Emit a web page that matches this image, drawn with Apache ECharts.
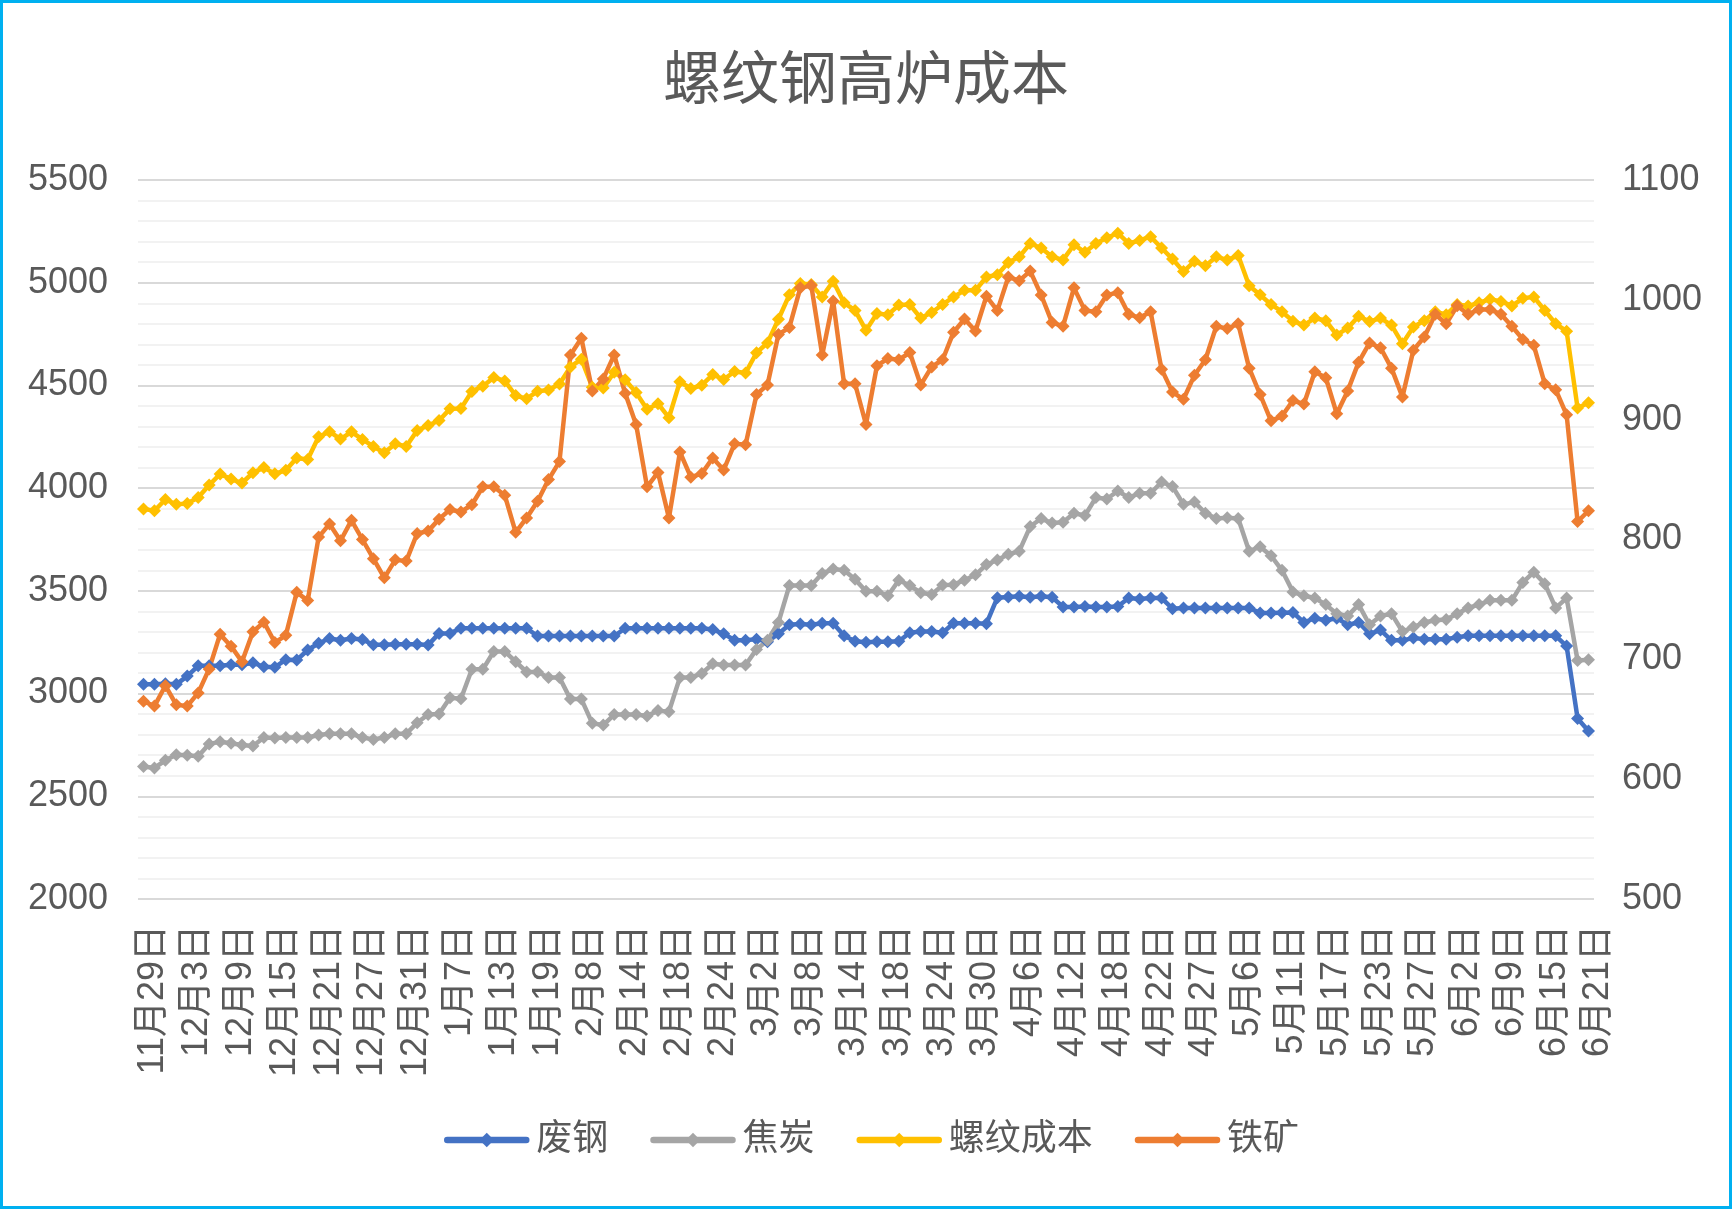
<!DOCTYPE html>
<html><head><meta charset="utf-8">
<script src="https://cdn.jsdelivr.net/npm/echarts@6/dist/echarts.min.js"></script>
<style>html,body{margin:0;padding:0;background:#fff}#c{width:1732px;height:1209px}</style>
</head><body><div id="c"></div>
<script>
const categories = [
'11月29日','11月30日','12月1日','12月2日','12月3日','12月4日','12月7日','12月8日','12月9日','12月10日',
'12月11日','12月14日','12月15日','12月16日','12月17日','12月18日','12月21日','12月22日','12月23日','12月24日',
'12月27日','12月28日','12月29日','12月30日','12月31日','1月4日','1月5日','1月6日','1月7日','1月8日',
'1月11日','1月12日','1月13日','1月14日','1月15日','1月18日','1月19日','1月20日','1月21日','1月22日',
'2月8日','2月9日','2月10日','2月11日','2月14日','2月15日','2月16日','2月17日','2月18日','2月19日',
'2月22日','2月23日','2月24日','2月25日','2月26日','3月1日','3月2日','3月3日','3月4日','3月5日',
'3月8日','3月9日','3月10日','3月11日','3月14日','3月15日','3月16日','3月17日','3月18日','3月19日',
'3月22日','3月23日','3月24日','3月25日','3月26日','3月29日','3月30日','3月31日','4月1日','4月2日',
'4月6日','4月7日','4月8日','4月9日','4月12日','4月13日','4月14日','4月15日','4月18日','4月19日',
'4月20日','4月21日','4月22日','4月23日','4月25日','4月26日','4月27日','4月28日','4月29日','4月30日',
'5月6日','5月7日','5月8日','5月10日','5月11日','5月12日','5月13日','5月14日','5月17日','5月18日',
'5月19日','5月20日','5月23日','5月24日','5月25日','5月26日','5月27日','5月28日','5月31日','6月1日',
'6月2日','6月3日','6月4日','6月8日','6月9日','6月10日','6月11日','6月13日','6月15日','6月16日',
'6月17日','6月18日','6月21日'];

const feigang = [
3045,3045,3048,3045,3085,3135,3135,3135,3140,3140,
3150,3130,3128,3165,3163,3212,3245,3268,3260,3268,
3263,3238,3238,3240,3240,3240,3236,3293,3293,3318,
3318,3318,3318,3318,3318,3318,3280,3280,3280,3280,
3280,3280,3280,3280,3318,3318,3318,3318,3318,3318,
3318,3318,3312,3291,3260,3260,3265,3252,3291,3335,
3339,3335,3342,3342,3281,3255,3250,3252,3252,3255,
3296,3302,3302,3296,3342,3342,3342,3340,3467,3470,
3474,3469,3474,3469,3422,3422,3424,3422,3422,3424,
3465,3460,3465,3465,3413,3417,3417,3417,3417,3417,
3417,3417,3392,3392,3394,3395,3346,3367,3357,3367,
3335,3346,3291,3309,3259,3259,3270,3265,3265,3265,
3274,3281,3281,3281,3281,3281,3281,3281,3281,3281,
3231,2879,2818];

const jiaotan = [
2645,2638,2675,2702,2700,2695,2755,2765,2758,2750,
2745,2786,2784,2786,2786,2786,2798,2804,2804,2804,
2786,2777,2786,2804,2804,2858,2898,2900,2980,2975,
3118,3118,3205,3205,3155,3105,3105,3078,3078,2973,
2973,2855,2847,2898,2898,2898,2891,2917,2912,3078,
3078,3098,3145,3139,3139,3139,3215,3259,3346,3526,
3526,3526,3585,3606,3600,3556,3498,3498,3476,3552,
3526,3491,3482,3528,3530,3552,3578,3628,3650,3678,
3693,3813,3852,3830,3834,3878,3867,3954,3947,3986,
3954,3975,3975,4030,4008,3921,3932,3878,3852,3856,
3852,3693,3715,3671,3600,3495,3476,3465,3433,3389,
3378,3433,3335,3378,3389,3302,3324,3346,3357,3361,
3389,3417,3433,3454,3454,3454,3541,3591,3535,3417,
3465,3161,3165];

const luowenCost = [
3899,3890,3945,3921,3925,3954,4015,4069,4044,4025,
4075,4100,4070,4087,4147,4139,4250,4275,4239,4274,
4237,4203,4172,4216,4203,4281,4305,4329,4386,4388,
4471,4496,4539,4522,4451,4435,4472,4478,4507,4590,
4628,4491,4488,4564,4528,4465,4384,4411,4343,4518,
4485,4501,4553,4529,4568,4561,4659,4707,4822,4941,
4996,4991,4931,5007,4902,4865,4768,4850,4844,4891,
4894,4828,4855,4894,4931,4963,4963,5028,5039,5098,
5126,5191,5169,5126,5111,5185,5148,5191,5219,5241,
5191,5206,5224,5169,5115,5054,5104,5082,5126,5111,
5132,4985,4941,4894,4859,4813,4794,4828,4815,4746,
4779,4837,4811,4828,4794,4703,4785,4815,4859,4844,
4894,4887,4902,4920,4909,4887,4924,4931,4865,4800,
4764,4390,4416];

const tiekuang = [
665,661,678,662,661,672,692,721,711,698,
723,731,714,720,756,749,802,813,799,816,
800,784,768,783,782,805,807,817,825,823,
829,844,844,837,806,818,832,850,865,954,
968,924,934,954,922,896,844,856,818,873,
852,855,868,858,880,879,921,929,971,977,
1010,1012,954,999,930,930,896,945,951,950,
956,929,944,950,973,984,974,1003,991,1019,
1016,1024,1004,981,978,1010,991,990,1004,1006,
988,985,990,942,923,917,937,950,978,976,
980,943,921,899,903,916,913,940,935,905,
924,948,964,960,943,919,958,969,988,980,
995,988,992,992,988,978,967,962,930,925,
904,815,824];

const leftTicks = {min:2000, max:5500, interval:500};
const rightTicks = {min:500, max:1100, interval:100};

const txt = '#595959';
const font = "'Liberation Sans','Noto Sans CJK SC',sans-serif";
const chart = echarts.init(document.getElementById('c'), null, {renderer:'canvas'});

function mk(name, data, color, yAxisIndex){
  return {
    name, type:'line', data, yAxisIndex,
    symbol:'diamond', symbolSize:13, showSymbol:true, showAllSymbol:true,
    lineStyle:{color, width:4.5}, itemStyle:{color},
    emphasis:{disabled:true}, animation:false
  };
}

chart.setOption({
  animation:false,
  backgroundColor:'#ffffff',
  title:{text:'螺纹钢高炉成本', left:'center', top:43,
    textStyle:{fontSize:58, fontWeight:'normal', color:txt, fontFamily:"'Noto Sans CJK SC',sans-serif"}},
  legend:{data:['废钢','焦炭','螺纹成本','铁矿'], left:439, top:1117,
    itemWidth:79, itemHeight:18, itemGap:42,
    lineStyle:{width:6.5, cap:'round'},
    textStyle:{fontSize:36, color:txt, fontFamily:font, padding:[0,0,0,5]}},
  grid:{left:138, right:138, top:180, bottom:310, containLabel:false},
  xAxis:{type:'category', data:categories, boundaryGap:true,
    axisLine:{show:false}, axisTick:{show:false}, splitLine:{show:false},
    axisLabel:{interval:3, rotate:90, color:txt, margin:26,
      formatter:(v)=>'{a|' + v + '}',
      rich:{a:{fontSize:36, color:txt, fontFamily:font, padding:[20,0,0,0]}}}},
  yAxis:[
    {type:'value', min:leftTicks.min, max:leftTicks.max, interval:leftTicks.interval,
     axisLine:{show:false}, axisTick:{show:false},
     axisLabel:{fontSize:36, color:txt, margin:30, fontFamily:font, formatter:(v)=>String(v)},
     splitLine:{show:true, lineStyle:{color:'#D9D9D9', width:2}},
     minorTick:{show:false, splitNumber:5},
     minorSplitLine:{show:true, lineStyle:{color:'#F2F2F2', width:2}}},
    {type:'value', min:rightTicks.min, max:rightTicks.max, interval:rightTicks.interval,
     position:'right',
     axisLine:{show:false}, axisTick:{show:false},
     axisLabel:{fontSize:36, color:txt, margin:28, fontFamily:font, formatter:(v)=>String(v)},
     splitLine:{show:false}}
  ],
  series:[
    mk('废钢', feigang, '#4472C4', 0),
    mk('焦炭', jiaotan, '#A5A5A5', 0),
    mk('螺纹成本', luowenCost, '#FFC000', 0),
    mk('铁矿', tiekuang, '#ED7D31', 1)
  ],
  graphic:[{type:'rect', silent:true, z:100,
    shape:{x:1.5, y:1.5, width:1729, height:1206},
    style:{fill:'none', stroke:'#00B0F0', lineWidth:3}}]
});
</script></body></html>
